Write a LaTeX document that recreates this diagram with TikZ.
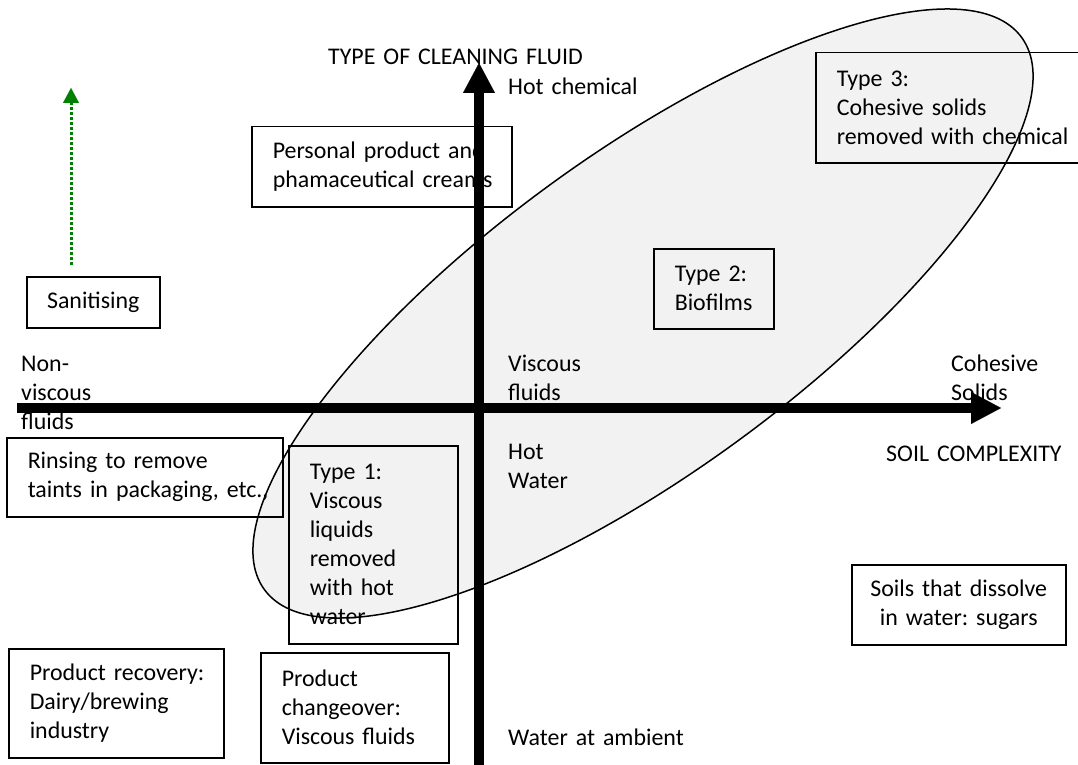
\documentclass[tikz,border=0pt]{standalone}
\usepackage{fontspec}
\setmainfont{Carlito}
\usetikzlibrary{arrows.meta}
\frenchspacing

\begin{document}
\begin{tikzpicture}[x=1pt,y=1pt,yscale=-1,xscale=1,
    font=\fontsize{23.9}{29}\selectfont,
    soilbox/.style={draw=black, line width=1.5pt, anchor=north west, inner xsep=21pt, inner ysep=0pt, align=left},
    axislabel/.style={anchor=base west, inner sep=0pt, align=left, text width=260pt},
    axisarrow/.style={line width=10pt, -{Triangle[length=30pt,width=32pt,line width=0.1pt]}},
    zone/.style={draw=black, line width=1.5pt, fill=black, fill opacity=0.05}]
\useasboundingbox (0,0) rectangle (1078,765);
\clip (0,0) rectangle (1078,765);

%Rectangle [id:sanit]
    \node[soilbox, inner xsep=15pt, text width=103pt, minimum height=51pt, align=center] (sanit) at (26,276) {Sanitising};
%Rectangle [id:personal]
    \node[soilbox, text width=218pt, minimum height=80pt] (personal) at (251,126) {\mbox{Personal product and}\\\mbox{phamaceutical creams}};
%Rectangle [id:typethree]
    \node[soilbox, text width=258pt, minimum height=110pt] (typethree) at (815,52) {Type 3:\\Cohesive solids\\removed with chemical};
%Rectangle [id:typetwo]
    \node[soilbox, text width=78pt, minimum height=80pt] (typetwo) at (653,248) {Type 2:\\Biofilms};
%Rectangle [id:rinse]
    \node[soilbox, text width=234pt, minimum height=79pt] (rinse) at (6,437) {Rinsing to remove\\\mbox{taints in packaging, etc.,}};
%Rectangle [id:typeone]
    \node[soilbox, text width=127pt, minimum height=198pt] (typeone) at (288,445) {Type 1:\\Viscous\\liquids\\removed\\with hot\\water};
%Rectangle [id:recovery]
    \node[soilbox, text width=173pt, minimum height=109pt] (recovery) at (8,648) {\mbox{Product recovery:}\\Dairy/brewing\\industry};
%Rectangle [id:changeover]
    \node[soilbox, text width=146pt, minimum height=110pt] (changeover) at (260,652) {Product\\changeover:\\Viscous fluids};
%Rectangle [id:sugars]
    \node[soilbox, inner xsep=15pt, text width=184pt, minimum height=80pt, align=center] (sugars) at (851,564) {Soils that dissolve\\in water: sugars};

%Axes
    \coordinate (xfoot) at (17,408);
    \coordinate (xtip) at (1001,408);
    \coordinate (yfoot) at (479,770);
    \coordinate (ytip) at (479,63);
    \draw[axisarrow] (xfoot) -- (xtip);
    \draw[axisarrow] (yfoot) -- (ytip);
%Dotted arrow
    \coordinate (sanfoot) at (71,265);
    \coordinate (santip) at (71,88);
    \draw[green!50!black, line width=3pt, dash pattern=on 3pt off 2pt, -{Triangle[length=15pt,width=16pt,line width=0.1pt]}] (sanfoot) -- (santip);

% Text Node
    \node[axislabel] (fluidtitle) at (328,65) {TYPE OF CLEANING FLUID};
% Text Node
    \node[axislabel] (hotchem) at (508,95) {Hot chemical};
% Text Node
    \node[axislabel] (nonviscous) at (21,371) {Non-\\viscous\\fluids};
% Text Node
    \node[axislabel] (viscous) at (508,371) {Viscous\\fluids};
% Text Node
    \node[axislabel] (cohesive) at (951,371) {Cohesive\\Solids};
% Text Node
    \node[axislabel] (hotwater) at (508,459) {Hot\\Water};
% Text Node
    \node[axislabel] (soiltitle) at (886,461) {SOIL COMPLEXITY};
% Text Node
    \node[axislabel] (ambient) at (508,745) {Water at ambient};

%Ellipse [id:zone]
    \draw[zone, rotate around={-36.1:(643,313.5)}] (643,313.5) ellipse [x radius=468.6, y radius=158.8];

\end{tikzpicture}
\end{document}
